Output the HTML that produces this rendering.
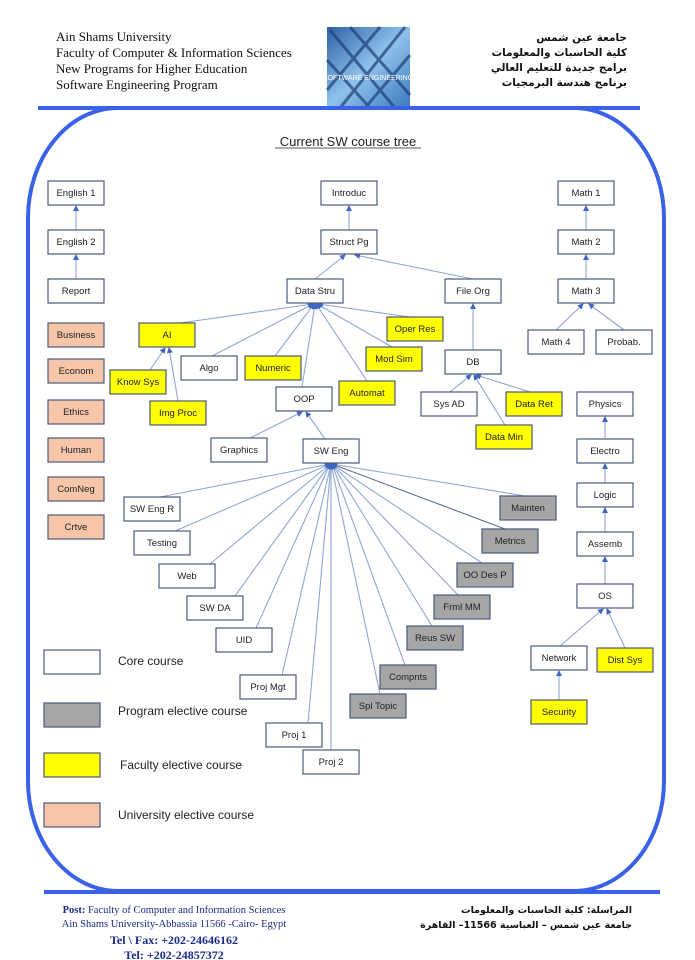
<!DOCTYPE html>
<html><head><meta charset="utf-8"><style>
html,body{margin:0;padding:0;background:#fff;width:695px;height:960px;overflow:hidden}
svg{display:block}
.b rect{stroke:#4a5a78;stroke-width:1.2}
.b text{font-family:"Liberation Sans",sans-serif;font-size:9.5px;fill:#222;text-anchor:middle}
.e line{stroke:#8fa6d4;stroke-width:1.1;marker-end:url(#a)}
.h{font-family:"Liberation Serif",serif;font-size:13px;fill:#111}
.ar{font-family:"DejaVu Sans",sans-serif;font-size:10.5px;font-weight:bold;fill:#111;text-anchor:end}
.lg{font-family:"Liberation Sans",sans-serif;font-size:12px;fill:#222}
</style></head><body>
<svg width="695" height="960" viewBox="0 0 695 960" xmlns="http://www.w3.org/2000/svg">
<defs>
<marker id="a" markerWidth="6" markerHeight="6" refX="5" refY="3" orient="auto" markerUnits="userSpaceOnUse"><path d="M0,0 L6,3 L0,6z" fill="#3f66c0"/></marker>
<linearGradient id="g" x1="0" y1="0" x2="1" y2="1"><stop offset="0" stop-color="#2d5fa8"/><stop offset=".5" stop-color="#8fc2ea"/><stop offset="1" stop-color="#3a78c0"/></linearGradient>
</defs>
<text class="h" x="56" y="41">Ain Shams University</text>
<text class="h" x="56" y="57">Faculty of Computer &amp; Information Sciences</text>
<text class="h" x="56" y="73">New Programs for Higher Education</text>
<text class="h" x="56" y="89">Software Engineering Program</text>
<text class="ar" x="627" y="41">جامعة عين شمس</text>
<text class="ar" x="627" y="56">كلية الحاسبات والمعلومات</text>
<text class="ar" x="627" y="71">برامج جديدة للتعليم العالي</text>
<text class="ar" x="627" y="86">برنامج هندسة البرمجيات</text>
<rect x="327" y="27" width="83" height="81" fill="url(#g)"/>
<g stroke="#1f3f7a" stroke-width="3" opacity=".7">
<line x1="330" y1="30" x2="395" y2="108"/><line x1="350" y1="27" x2="410" y2="95"/><line x1="327" y1="60" x2="370" y2="108"/>
<line x1="405" y1="27" x2="340" y2="108"/><line x1="380" y1="27" x2="327" y2="90"/><line x1="410" y1="55" x2="365" y2="108"/>
</g>
<text x="368" y="80" font-family="Liberation Sans Narrow,Liberation Sans,sans-serif" font-size="7" fill="#fff" text-anchor="middle">SOFTWARE ENGINEERING</text>
<rect x="28" y="108" width="636" height="783" rx="90" ry="110" fill="none" stroke="#3a62e6" stroke-width="4"/>
<rect x="38" y="106" width="602" height="4" fill="#3a62e6"/>
<rect x="44" y="890" width="616" height="4" fill="#3a62e6"/>
<text x="348" y="146" font-family="Liberation Sans,sans-serif" font-size="13" fill="#222" text-anchor="middle">Current SW course tree</text>
<line x1="275" y1="148" x2="421" y2="148" stroke="#222" stroke-width=".8"/>
<g class="e">
<line x1="76" y1="230" x2="76" y2="206"/><line x1="76" y1="279" x2="76" y2="255"/>
<line x1="349" y1="230" x2="349" y2="206"/>
<line x1="315" y1="279" x2="345" y2="255"/><line x1="473" y1="279" x2="355" y2="255"/>
<line x1="586" y1="230" x2="586" y2="206"/><line x1="586" y1="279" x2="586" y2="255"/>
<line x1="556" y1="330" x2="583" y2="304"/><line x1="624" y1="330" x2="589" y2="304"/>
<line x1="180" y1="323" x2="313" y2="304"/><line x1="212" y1="356" x2="313" y2="304"/><line x1="275" y1="356" x2="314" y2="304"/>
<line x1="302" y1="387" x2="315" y2="304"/><line x1="367" y1="381" x2="316" y2="304"/><line x1="392" y1="347" x2="317" y2="304"/><line x1="410" y1="317" x2="318" y2="304"/>
<line x1="150" y1="370" x2="165" y2="348"/><line x1="178" y1="401" x2="169" y2="348"/>
<line x1="473" y1="350" x2="473" y2="304"/>
<line x1="450" y1="392" x2="471" y2="375"/><line x1="530" y1="392" x2="476" y2="375"/><line x1="505" y1="425" x2="474" y2="375"/>
<line x1="250" y1="438" x2="302" y2="412"/><line x1="325" y1="439" x2="306" y2="412"/>
<line x1="605" y1="439" x2="605" y2="417"/><line x1="605" y1="483" x2="605" y2="464"/><line x1="605" y1="532" x2="605" y2="508"/><line x1="605" y1="584" x2="605" y2="557"/>
<line x1="560" y1="646" x2="603" y2="609"/><line x1="625" y1="648" x2="607" y2="609"/><line x1="559" y1="700" x2="559" y2="671"/>
<line x1="160" y1="497" x2="330" y2="464"/><line x1="175" y1="531" x2="330" y2="464"/><line x1="210" y1="564" x2="330" y2="464"/>
<line x1="235" y1="596" x2="330" y2="464"/><line x1="256" y1="628" x2="330" y2="464"/><line x1="282" y1="675" x2="331" y2="464"/>
<line x1="308" y1="723" x2="331" y2="464"/><line x1="331" y1="750" x2="331" y2="464"/><line x1="380" y1="694" x2="331" y2="464"/>
<line x1="405" y1="665" x2="332" y2="464"/><line x1="432" y1="626" x2="332" y2="464"/><line x1="458" y1="595" x2="332" y2="464"/>
<line x1="482" y1="563" x2="332" y2="464"/><line x1="505" y1="529" x2="332" y2="464" style="stroke:#5a6f96"/><line x1="525" y1="496" x2="332" y2="464"/>
</g>
<g class="b">
<rect x="48" y="181" width="56" height="24" fill="#fff"/><text x="76" y="196">English 1</text>
<rect x="48" y="230" width="56" height="24" fill="#fff"/><text x="76" y="245">English 2</text>
<rect x="48" y="279" width="56" height="24" fill="#fff"/><text x="76" y="294">Report</text>
<rect x="321" y="181" width="56" height="24" fill="#fff"/><text x="349" y="196">Introduc</text>
<rect x="321" y="230" width="56" height="24" fill="#fff"/><text x="349" y="245">Struct Pg</text>
<rect x="287" y="279" width="56" height="24" fill="#fff"/><text x="315" y="294">Data Stru</text>
<rect x="445" y="279" width="56" height="24" fill="#fff"/><text x="473" y="294">File Org</text>
<rect x="558" y="181" width="56" height="24" fill="#fff"/><text x="586" y="196">Math 1</text>
<rect x="558" y="230" width="56" height="24" fill="#fff"/><text x="586" y="245">Math 2</text>
<rect x="558" y="279" width="56" height="24" fill="#fff"/><text x="586" y="294">Math 3</text>
<rect x="528" y="330" width="56" height="24" fill="#fff"/><text x="556" y="345">Math 4</text>
<rect x="596" y="330" width="56" height="24" fill="#fff"/><text x="624" y="345">Probab.</text>
<rect x="48" y="323" width="56" height="24" fill="#f7c6a8"/><text x="76" y="338">Business</text>
<rect x="48" y="359" width="56" height="24" fill="#f7c6a8"/><text x="76" y="374">Econom</text>
<rect x="48" y="400" width="56" height="24" fill="#f7c6a8"/><text x="76" y="415">Ethics</text>
<rect x="48" y="438" width="56" height="24" fill="#f7c6a8"/><text x="76" y="453">Human</text>
<rect x="48" y="477" width="56" height="24" fill="#f7c6a8"/><text x="76" y="492">ComNeg</text>
<rect x="48" y="515" width="56" height="24" fill="#f7c6a8"/><text x="76" y="530">Crtve</text>
<rect x="139" y="323" width="56" height="24" fill="#ffff00"/><text x="167" y="338">AI</text>
<rect x="110" y="370" width="56" height="24" fill="#ffff00"/><text x="138" y="385">Know Sys</text>
<rect x="150" y="401" width="56" height="24" fill="#ffff00"/><text x="178" y="416">Img Proc</text>
<rect x="181" y="356" width="56" height="24" fill="#fff"/><text x="209" y="371">Algo</text>
<rect x="245" y="356" width="56" height="24" fill="#ffff00"/><text x="273" y="371">Numeric</text>
<rect x="276" y="387" width="56" height="24" fill="#fff"/><text x="304" y="402">OOP</text>
<rect x="339" y="381" width="56" height="24" fill="#ffff00"/><text x="367" y="396">Automat</text>
<rect x="387" y="317" width="56" height="24" fill="#ffff00"/><text x="415" y="332">Oper Res</text>
<rect x="366" y="347" width="56" height="24" fill="#ffff00"/><text x="394" y="362">Mod Sim</text>
<rect x="445" y="350" width="56" height="24" fill="#fff"/><text x="473" y="365">DB</text>
<rect x="421" y="392" width="56" height="24" fill="#fff"/><text x="449" y="407">Sys AD</text>
<rect x="506" y="392" width="56" height="24" fill="#ffff00"/><text x="534" y="407">Data Ret</text>
<rect x="476" y="425" width="56" height="24" fill="#ffff00"/><text x="504" y="440">Data Min</text>
<rect x="577" y="392" width="56" height="24" fill="#fff"/><text x="605" y="407">Physics</text>
<rect x="577" y="439" width="56" height="24" fill="#fff"/><text x="605" y="454">Electro</text>
<rect x="577" y="483" width="56" height="24" fill="#fff"/><text x="605" y="498">Logic</text>
<rect x="577" y="532" width="56" height="24" fill="#fff"/><text x="605" y="547">Assemb</text>
<rect x="577" y="584" width="56" height="24" fill="#fff"/><text x="605" y="599">OS</text>
<rect x="531" y="646" width="56" height="24" fill="#fff"/><text x="559" y="661">Network</text>
<rect x="597" y="648" width="56" height="24" fill="#ffff00"/><text x="625" y="663">Dist Sys</text>
<rect x="531" y="700" width="56" height="24" fill="#ffff00"/><text x="559" y="715">Security</text>
<rect x="211" y="438" width="56" height="24" fill="#fff"/><text x="239" y="453">Graphics</text>
<rect x="303" y="439" width="56" height="24" fill="#fff"/><text x="331" y="454">SW Eng</text>
<rect x="124" y="497" width="56" height="24" fill="#fff"/><text x="152" y="512">SW Eng R</text>
<rect x="134" y="531" width="56" height="24" fill="#fff"/><text x="162" y="546">Testing</text>
<rect x="159" y="564" width="56" height="24" fill="#fff"/><text x="187" y="579">Web</text>
<rect x="187" y="596" width="56" height="24" fill="#fff"/><text x="215" y="611">SW DA</text>
<rect x="216" y="628" width="56" height="24" fill="#fff"/><text x="244" y="643">UID</text>
<rect x="240" y="675" width="56" height="24" fill="#fff"/><text x="268" y="690">Proj Mgt</text>
<rect x="266" y="723" width="56" height="24" fill="#fff"/><text x="294" y="738">Proj 1</text>
<rect x="303" y="750" width="56" height="24" fill="#fff"/><text x="331" y="765">Proj 2</text>
<rect x="500" y="496" width="56" height="24" fill="#a6a6a6"/><text x="528" y="511">Mainten</text>
<rect x="482" y="529" width="56" height="24" fill="#a6a6a6"/><text x="510" y="544">Metrics</text>
<rect x="457" y="563" width="56" height="24" fill="#a6a6a6"/><text x="485" y="578">OO Des P</text>
<rect x="434" y="595" width="56" height="24" fill="#a6a6a6"/><text x="462" y="610">Frml MM</text>
<rect x="407" y="626" width="56" height="24" fill="#a6a6a6"/><text x="435" y="641">Reus SW</text>
<rect x="380" y="665" width="56" height="24" fill="#a6a6a6"/><text x="408" y="680">Compnts</text>
<rect x="350" y="694" width="56" height="24" fill="#a6a6a6"/><text x="378" y="709">Spl Topic</text>
<rect x="44" y="650" width="56" height="24" fill="#fff"/>
<rect x="44" y="703" width="56" height="24" fill="#a6a6a6"/>
<rect x="44" y="753" width="56" height="24" fill="#ffff00"/>
<rect x="44" y="803" width="56" height="24" fill="#f7c6a8"/>
</g>
<text class="lg" x="118" y="665">Core course</text>
<text class="lg" x="118" y="715">Program elective course</text>
<text class="lg" x="120" y="769">Faculty elective course</text>
<text class="lg" x="118" y="819">University elective course</text>
<g font-family="Liberation Serif,serif" font-size="10.5" fill="#1a2a8a" text-anchor="middle">
<text x="174" y="913"><tspan font-weight="bold">Post:</tspan> Faculty of Computer and Information Sciences</text>
<text x="174" y="927">Ain Shams University-Abbassia 11566 -Cairo- Egypt</text>
<text x="174" y="944" font-weight="bold" font-size="12">Tel \ Fax: +202-24646162</text>
<text x="174" y="959" font-weight="bold" font-size="12">Tel: +202-24857372</text>
</g>
<text class="ar" x="632" y="913" style="font-size:9.5px">المراسلة: كلية الحاسبات والمعلومات</text>
<text class="ar" x="632" y="928" style="font-size:9.5px">جامعة عين شمس – العباسية 11566– القاهرة</text>
</svg>
</body></html>
